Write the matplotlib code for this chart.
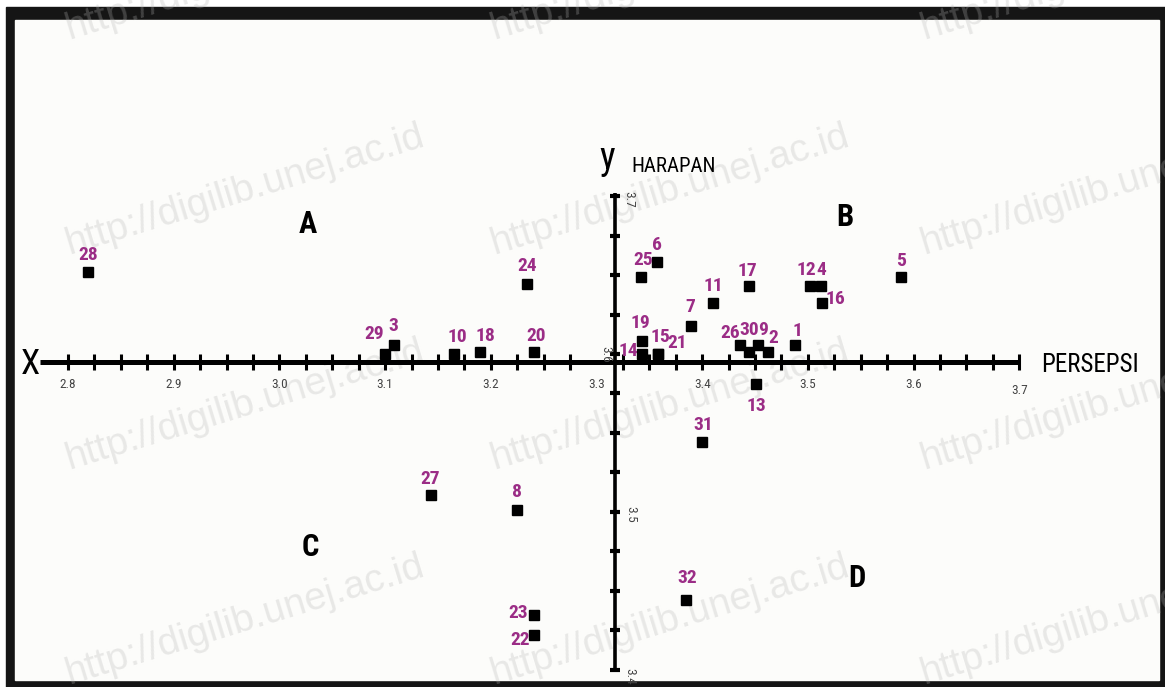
import matplotlib.pyplot as plt
from matplotlib.patches import Rectangle
import numpy as np

# respondent numbers and their mean scores
ids = [str(i) for i in range(1, 33)]
persepsi = [3.488, 3.462, 3.108, 3.512, 3.588, 3.357, 3.389, 3.225, 3.453, 3.165,
            3.410, 3.502, 3.451, 3.343, 3.358, 3.513, 3.444, 3.190, 3.343, 3.241,
            3.358, 3.241, 3.241, 3.234, 3.342, 3.436, 3.143, 2.819, 3.100, 3.444,
            3.400, 3.385]
harapan = [3.606, 3.601, 3.606, 3.643, 3.649, 3.658, 3.618, 3.501, 3.606, 3.600,
           3.632, 3.643, 3.581, 3.600, 3.600, 3.632, 3.643, 3.601, 3.608, 3.601,
           3.600, 3.422, 3.435, 3.644, 3.649, 3.606, 3.511, 3.652, 3.600, 3.601,
           3.544, 3.444]

x_ticklabels = ['2.8', '2.9', '3.0', '3.1', '3.2', '3.3', '3.4', '3.5', '3.6', '3.7']
y_ticklabels = ['3.4', '3.5', '3.6', '3.7']
x_cross = 3.3175   # where the harapan axis sits
y_cross = 3.595    # where the persepsi axis sits
quadrants = ['A', 'B', 'C', 'D']
quad_x = [3.027, 3.535, 3.029, 3.546]
quad_y = [3.682, 3.687, 3.478, 3.458]

# label offsets in pixels (dx, dy up)
lab_off = {'1': (2, 14), '2': (5, 14), '3': (0, 19), '4': (1, 16), '5': (0, 16),
           '6': (0, 17), '7': (0, 19), '8': (0, 18), '9': (5, 15), '10': (4, 17),
           '11': (1, 17), '12': (-4, 16), '13': (0, -22), '14': (-14, 3),
           '15': (3, 17), '16': (14, 4), '17': (-1, 15), '18': (5, 16),
           '19': (-2, 18), '20': (2, 16), '21': (19, 11), '22': (-14, -5),
           '23': (-16, 2), '24': (0, 18), '25': (2, 17), '26': (-10, 12),
           '27': (0, 16), '28': (0, 17), '29': (-11, 20), '30': (0, 22),
           '31': (1, 17), '32': (1, 22)}

NARROW = ['Liberation Sans Narrow', 'DejaVu Sans Condensed', 'Roboto Condensed',
          'Liberation Sans', 'DejaVu Sans']
PURPLE = '#9b2d86'

W, H = 1165, 687
fig = plt.figure(figsize=(W / 100, H / 100), dpi=100)
fig.patch.set_facecolor('white')

# black picture frame, in pixel coords
bg = fig.add_axes([0, 0, 1, 1])
bg.set_xlim(0, W)
bg.set_ylim(H, 0)
bg.axis('off')
bg.add_patch(Rectangle((6, 7), W - 6, H - 7, color='#151515'))
bg.add_patch(Rectangle((15, 20), 1144, 660, color='#fcfcfa'))

ax = fig.add_axes([0, 0, 1, 1], facecolor='none')
ax.set_xlim(2.7357, 3.8378)
ax.set_ylim(3.3892, 3.8241)
ax.axis('off')

# horizontal axis (persepsi)
x_major = [float(v) for v in x_ticklabels]
x_minor = [v for v in np.arange(2.8, 3.7001, 0.025) if abs(v - 3.3) > 0.001]
ax.plot([2.7735, x_major[-1]], [y_cross, y_cross], color='black', lw=3.6,
        solid_capstyle='butt', zorder=3)
ax.plot(x_minor, [y_cross] * len(x_minor), ls='none', marker='|', ms=11,
        mew=2.2, color='black', zorder=3)
for v, t in zip(x_major, x_ticklabels):
    dy = -29 if t == '3.7' else -23
    ax.annotate(t, (v, y_cross), xytext=(0, dy), textcoords='offset pixels',
                ha='center', va='center', fontsize=9.5, color='#444444',
                family=NARROW)

# vertical axis (harapan)
y_major = [float(v) for v in y_ticklabels]
y_minor = np.arange(3.4, 3.7001, 0.025)
ax.plot([x_cross, x_cross], [y_major[0] - 0.001, y_major[-1] + 0.002],
        color='black', lw=2.6, solid_capstyle='butt', zorder=3)
ax.plot([x_cross] * len(y_minor), y_minor, ls='none', marker='_', ms=7,
        mew=3, color='black', zorder=3)
y_lab_off = {'3.4': (15, -6), '3.5': (16, -2), '3.6': (-9, 0), '3.7': (14, -3)}
for v, t in zip(y_major, y_ticklabels):
    ax.annotate(t, (x_cross, v), xytext=y_lab_off[t], textcoords='offset pixels',
                ha='center', va='center', rotation=-90, fontsize=9.5,
                color='#444444', family=NARROW)

# axis names
ax.annotate('X', (2.7735, y_cross), xytext=(-10, -3), textcoords='offset pixels',
            ha='center', va='center', fontsize=25, family=NARROW)
ax.annotate('PERSEPSI', (x_major[-1], y_cross), xytext=(22, -3),
            textcoords='offset pixels', ha='left', va='center', fontsize=18,
            family=NARROW)
ax.annotate('y', (x_cross, y_major[-1]), xytext=(-8, 38), textcoords='offset pixels',
            ha='center', va='center', fontsize=27, family=NARROW)
ax.annotate('HARAPAN', (x_cross, y_major[-1]), xytext=(16, 30),
            textcoords='offset pixels', ha='left', va='center', fontsize=15,
            family=NARROW)

for q, qx, qy in zip(quadrants, quad_x, quad_y):
    ax.text(qx, qy, q, ha='center', va='center', fontsize=22, fontweight='bold',
            family=NARROW)

# the points
ax.plot(persepsi, harapan, ls='none', marker='s', ms=6.5, color='black', zorder=4)
for i, px, py in zip(ids, persepsi, harapan):
    ax.annotate(i, (px, py), xytext=lab_off[i], textcoords='offset pixels',
                ha='center', va='center', fontsize=14, fontweight='bold',
                color=PURPLE, family=NARROW, zorder=5)

# repository watermark
wm_x = [245, 670, 1100]
wm_y = [-25, 190, 405, 620]
for cy in wm_y:
    for cx in wm_x:
        bg.text(cx, cy, 'http://digilib.unej.ac.id', rotation=17,
                rotation_mode='anchor', ha='center', va='center', fontsize=28,
                family=['Liberation Sans', 'DejaVu Sans'],
                color='#b4b4b4', alpha=0.28, zorder=10, clip_on=True)

fig.savefig('out.png', dpi=100)
